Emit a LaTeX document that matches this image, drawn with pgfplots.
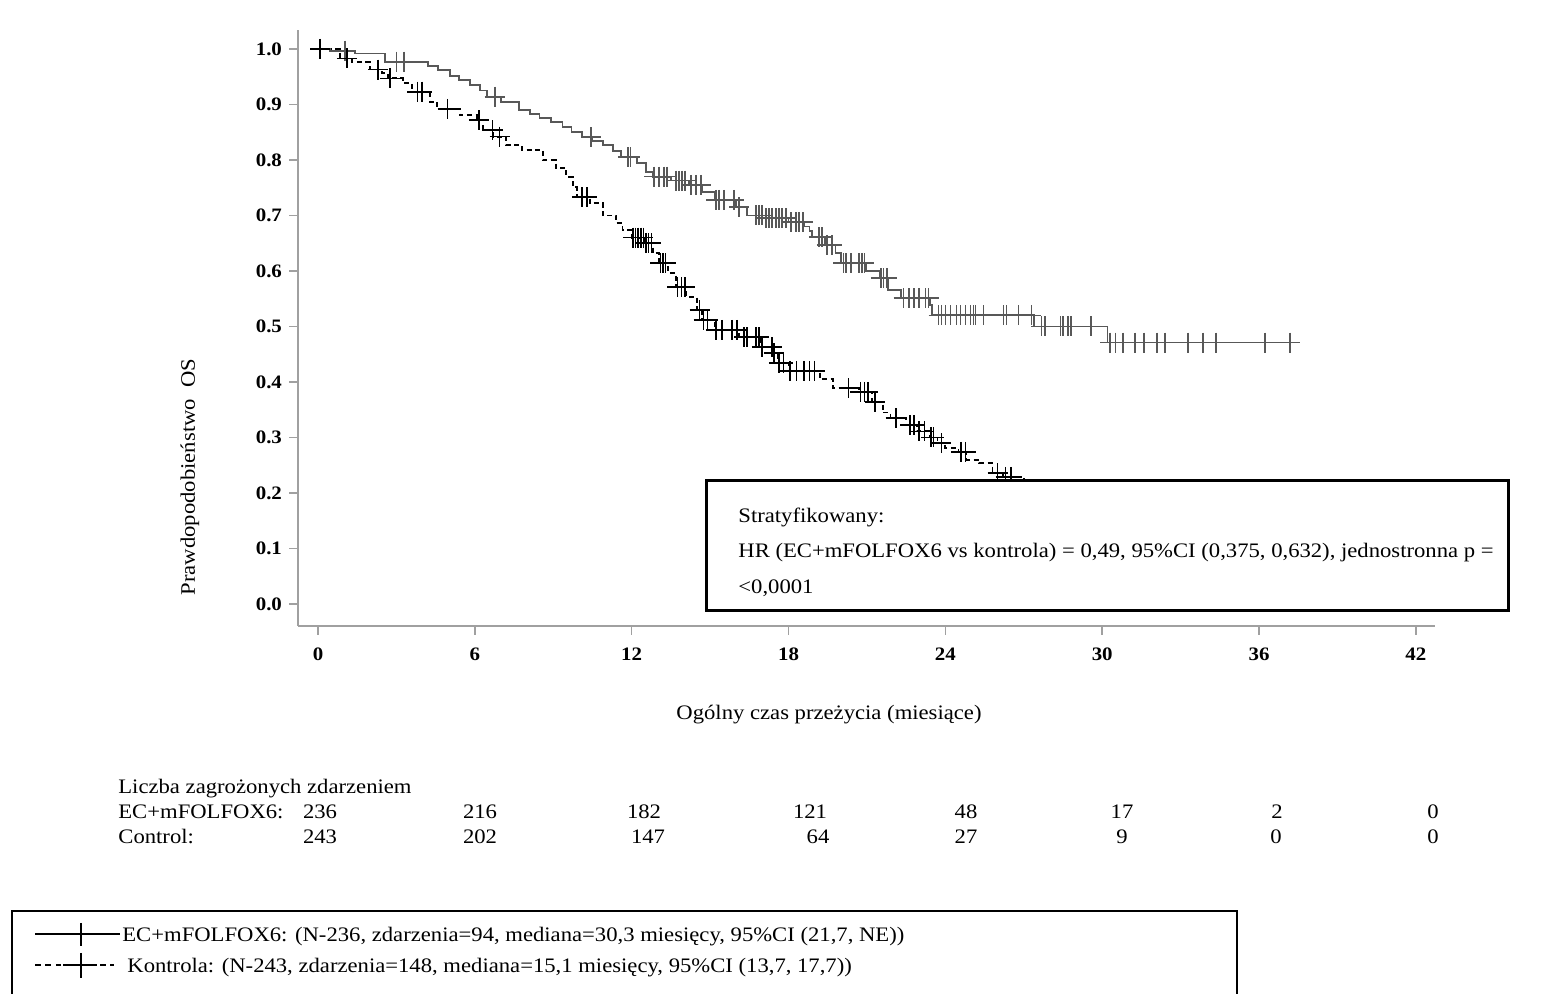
\documentclass[border=0pt]{standalone}
\usepackage{fontspec}
\setmainfont{Liberation Serif}[FakeStretch=1.1]
\usepackage{pgfplots}
\pgfplotsset{compat=1.18}
\definecolor{axisgray}{HTML}{A0A0A0}
\definecolor{ecgray}{HTML}{585858}

\pgfplotstableread{
t S
0 1.000
0.46 0.997
1.41 0.992
2.56 0.977
4.2 0.970
4.6 0.962
5.04 0.952
5.4 0.944
5.8 0.935
6.2 0.925
6.45 0.914
7.0 0.905
7.7 0.890
8.1 0.883
8.47 0.876
8.9 0.868
9.35 0.860
9.7 0.851
10.1 0.841
10.5 0.834
10.9 0.827
11.3 0.816
11.6 0.805
12.2 0.795
12.56 0.778
12.8 0.770
13.5 0.763
14.2 0.755
14.7 0.742
15.2 0.728
16.0 0.715
16.4 0.700
17.0 0.695
18.0 0.688
18.6 0.680
18.8 0.672
18.9 0.661
19.4 0.647
19.8 0.632
20.0 0.614
20.95 0.600
21.5 0.587
21.8 0.566
22.3 0.551
23.4 0.539
23.5 0.520
27.4 0.500
30.2 0.471
37.5 0.471
}\ecdata

\pgfplotstableread{
t S
0.1 1.000
1.03 0.997
3.0 0.977
3.3 0.977
6.76 0.914
10.45 0.841
11.85 0.805
11.95 0.805
12.86 0.770
13.05 0.770
13.24 0.770
13.36 0.770
13.70 0.763
13.82 0.763
13.93 0.763
14.05 0.763
14.27 0.755
14.47 0.755
14.65 0.755
15.23 0.728
15.34 0.728
15.53 0.728
15.92 0.728
16.11 0.715
16.76 0.700
16.87 0.700
16.98 0.700
17.14 0.695
17.25 0.695
17.37 0.695
17.52 0.695
17.63 0.695
17.75 0.695
17.90 0.695
18.09 0.688
18.28 0.688
18.40 0.688
18.55 0.688
19.16 0.661
19.27 0.661
19.47 0.647
19.66 0.647
20.10 0.614
20.19 0.614
20.38 0.614
20.69 0.614
20.80 0.614
20.90 0.614
21.53 0.587
21.64 0.587
21.76 0.587
22.40 0.551
22.60 0.551
22.79 0.551
22.98 0.551
23.24 0.551
23.36 0.551
23.74 0.520
23.85 0.520
24.00 0.520
24.20 0.520
24.43 0.520
24.58 0.520
24.77 0.520
24.96 0.520
25.08 0.520
25.15 0.520
25.46 0.520
26.22 0.520
26.34 0.520
26.80 0.520
27.29 0.520
27.67 0.500
27.82 0.500
28.40 0.500
28.50 0.500
28.70 0.500
28.80 0.500
29.58 0.500
30.30 0.471
30.50 0.471
30.80 0.471
31.26 0.471
31.60 0.471
32.10 0.471
32.40 0.471
33.28 0.471
33.85 0.471
34.35 0.471
36.22 0.471
37.18 0.471
}\eccens

\pgfplotstableread{
t S
0 1.000
0.84 0.983
1.3 0.977
1.98 0.963
2.44 0.956
2.67 0.947
3.24 0.938
3.6 0.923
4.27 0.905
4.54 0.892
5.42 0.881
6.07 0.872
6.3 0.854
6.7 0.842
7.2 0.827
7.8 0.818
8.6 0.800
9.1 0.786
9.5 0.769
9.74 0.751
9.9 0.733
10.4 0.722
10.9 0.700
11.4 0.686
11.65 0.674
12.0 0.660
12.5 0.650
12.8 0.632
13.05 0.614
13.4 0.596
13.7 0.571
14.1 0.553
14.5 0.530
14.7 0.512
15.2 0.494
16.1 0.481
16.9 0.463
17.4 0.452
17.6 0.434
18.0 0.420
19.2 0.405
19.7 0.389
20.7 0.382
21.2 0.364
21.6 0.345
21.9 0.335
22.5 0.322
22.9 0.311
23.4 0.300
23.7 0.290
24.0 0.281
24.5 0.274
24.8 0.260
25.3 0.254
25.8 0.236
26.2 0.229
27.0 0.215
28.0 0.200
29.0 0.185
30.5 0.170
32.5 0.170
}\ctdata

\pgfplotstableread{
t S
0.08 1.000
1.1 0.983
2.3 0.963
2.75 0.947
3.8 0.923
3.97 0.923
4.96 0.892
6.15 0.872
6.68 0.854
6.95 0.842
10.1 0.733
10.3 0.733
12.05 0.660
12.15 0.660
12.25 0.660
12.35 0.660
12.45 0.660
12.55 0.650
12.65 0.650
12.75 0.650
13.1 0.614
13.2 0.614
13.3 0.614
13.75 0.571
13.9 0.571
14.05 0.571
14.6 0.530
14.75 0.512
14.9 0.512
15.23 0.494
15.46 0.494
15.84 0.494
16.03 0.494
16.3 0.481
16.41 0.481
16.76 0.481
16.87 0.481
16.98 0.463
17.37 0.463
17.45 0.452
17.63 0.434
17.8 0.434
18.05 0.420
18.3 0.420
18.6 0.420
18.8 0.420
19.0 0.420
20.3 0.389
20.75 0.382
20.9 0.382
21.05 0.382
21.3 0.364
22.1 0.335
22.65 0.322
22.8 0.322
23.0 0.311
23.2 0.311
23.45 0.300
23.55 0.300
23.85 0.290
24.6 0.274
24.77 0.274
26.0 0.236
26.3 0.229
26.5 0.229
}\ctcens

\begin{document}
\begin{tikzpicture}[font=\fontsize{10.3}{12}\selectfont]
\useasboundingbox (0,0) rectangle (772pt,497pt);
\begin{axis}[
  at={(149pt,184pt)}, anchor=south west,
  scale only axis, width=568.5pt, height=298pt,
  xmin=-0.765, xmax=42.73, ymin=-0.0396, ymax=1.0342,
  axis x line*=bottom, axis y line*=left,
  axis line style={axisgray, line width=0.8pt, -},
  every tick/.style={axisgray, line width=0.8pt},
  tick align=outside, major tick length=4.5pt,
  xtick={0,6,12,18,24,30,36,42},
  ytick={0,0.1,0.2,0.3,0.4,0.5,0.6,0.7,0.8,0.9,1.0},
  /pgf/number format/assume math mode=true,
  ticklabel style={font=\fontsize{9.5}{11}\selectfont\bfseries, text=black},
  yticklabel style={/pgf/number format/.cd, fixed, fixed zerofill, precision=1},
  xticklabel style={yshift=-3pt},
  clip=false,
]
\addplot[const plot, ecgray, line width=0.9pt] table[x=t,y=S] {\ecdata};
\addplot[only marks, mark=+, mark size=5pt, mark options={ecgray, line width=0.8pt}] table[x=t,y=S] {\eccens};
\addplot[const plot, black, line width=0.9pt, dash pattern=on 2.5pt off 1.8pt] table[x=t,y=S] {\ctdata};
\addplot[only marks, mark=+, mark size=5pt, mark options={black, line width=0.8pt, solid}] table[x=t,y=S] {\ctcens};
\end{axis}
\begin{scope}[x=0.5pt, y=-0.5pt, yshift=497pt]
% stats box
\draw[line width=1.5pt, fill=white] (706,481) rectangle (1508,611);
\node[anchor=base west, inner sep=0] at (738,523) {Stratyfikowany:};
\node[anchor=base west, inner sep=0] at (738,558) {HR (EC+mFOLFOX6 vs kontrola) = 0,49, 95\%CI (0,375, 0,632), jednostronna p =};
\node[anchor=base west, inner sep=0] at (738,594) {<0,0001};
% axis labels
\node[rotate=90, inner sep=0] at (190,477) {Prawdopodobieństwo\ \ OS};
\node[inner sep=0] at (829,715) {Ogólny czas przeżycia (miesiące)};
% number at risk
\node[anchor=base west, inner sep=0] at (118,794) {Liczba zagrożonych zdarzeniem};
\node[anchor=base west, inner sep=0] at (118,819) {EC+mFOLFOX6:};
\node[anchor=base west, inner sep=0] at (118,844) {Control:};
\foreach \xx/\nn in {320/236, 480/216, 644/182, 810/121, 966/48, 1122/17, 1277/2, 1433/0}
  \node[anchor=base, inner sep=0] at (\xx,819) {\nn};
\foreach \xx/\nn in {320/243, 480/202, 648/147, 818/64, 966/27, 1122/9, 1276/0, 1433/0}
  \node[anchor=base, inner sep=0] at (\xx,844) {\nn};
% legend
\draw[line width=1.2pt] (12,1000) -- (12,911) -- (1237,911) -- (1237,1000);
\draw[line width=0.8pt] (35,934) -- (120,934);
\draw[line width=0.8pt] (81,923) -- (81,946);
\node[anchor=base west, inner sep=0] at (122,942) {EC+mFOLFOX6: (N-236, zdarzenia=94, mediana=30,3 miesięcy, 95\%CI (21,7, NE))};
\draw[line width=0.8pt, dash pattern=on 2.8pt off 2.4pt] (35,965) -- (63,965);
\draw[line width=0.8pt] (63,965) -- (97,965);
\draw[line width=0.8pt, dash pattern=on 2.8pt off 2.4pt] (100,965) -- (114,965);
\draw[line width=0.8pt] (81,953) -- (81,978);
\node[anchor=base west, inner sep=0] at (127,973) {Kontrola: (N-243, zdarzenia=148, mediana=15,1 miesięcy, 95\%CI (13,7, 17,7))};
\end{scope}
\end{tikzpicture}
\end{document}
